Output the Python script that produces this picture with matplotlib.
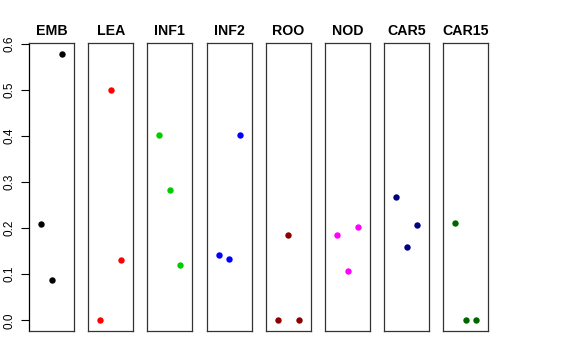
import matplotlib
matplotlib.use("Agg")
import matplotlib.pyplot as plt

plt.rcParams['font.family'] = ['Liberation Sans', 'DejaVu Sans']

# data
tissues = ["EMB", "LEA", "INF1", "INF2", "ROO", "NOD", "CAR5", "CAR15"]
colors = ["black", "red", "#00CD00", "blue", "#8B0000", "magenta", "#000080", "#006400"]
positions = [1, 2, 3]
emb = [0.208, 0.088, 0.578]
lea = [0.0, 0.500, 0.130]
inf1 = [0.401, 0.283, 0.120]
inf2 = [0.141, 0.132, 0.401]
roo = [0.0, 0.186, 0.0]
nod = [0.186, 0.108, 0.203]
car5 = [0.267, 0.158, 0.207]
car15 = [0.211, 0.0, 0.0]
values = [emb, lea, inf1, inf2, roo, nod, car5, car15]

ymax = max(max(v) for v in values)
pad = 0.04 * ymax

fig = plt.figure(figsize=(5.76, 3.6), dpi=100)
W, H = 576, 360
for i, (name, col, vals) in enumerate(zip(tissues, colors, values)):
    left = 29 + i * 59.2
    ax = fig.add_axes([left / W, 29 / H, 45 / W, 288 / H])
    ax.plot(positions, vals, 'o', color=col, markersize=4.6, markeredgewidth=0)
    ax.set_xlim(-0.16, 4.16)
    ax.set_ylim(-pad, ymax + pad)
    ax.set_xticks([])
    ax.set_title(name, fontsize=10.2, fontweight='bold', pad=6)
    for s in ax.spines.values():
        s.set_linewidth(0.9)
        s.set_color('#333333')
    if i == 0:
        ax.set_yticks([0.0, 0.1, 0.2, 0.3, 0.4, 0.5, 0.6])
        ax.set_yticklabels(["0.0", "0.1", "0.2", "0.3", "0.4", "0.5", "0.6"],
                           rotation=90, va='center', fontsize=8.5)
        ax.tick_params(axis='y', length=5.5, width=0.8, pad=4)
        ax.spines['left'].set_color('black')
    else:
        ax.set_yticks([])

fig.savefig("out.png", dpi=100)
